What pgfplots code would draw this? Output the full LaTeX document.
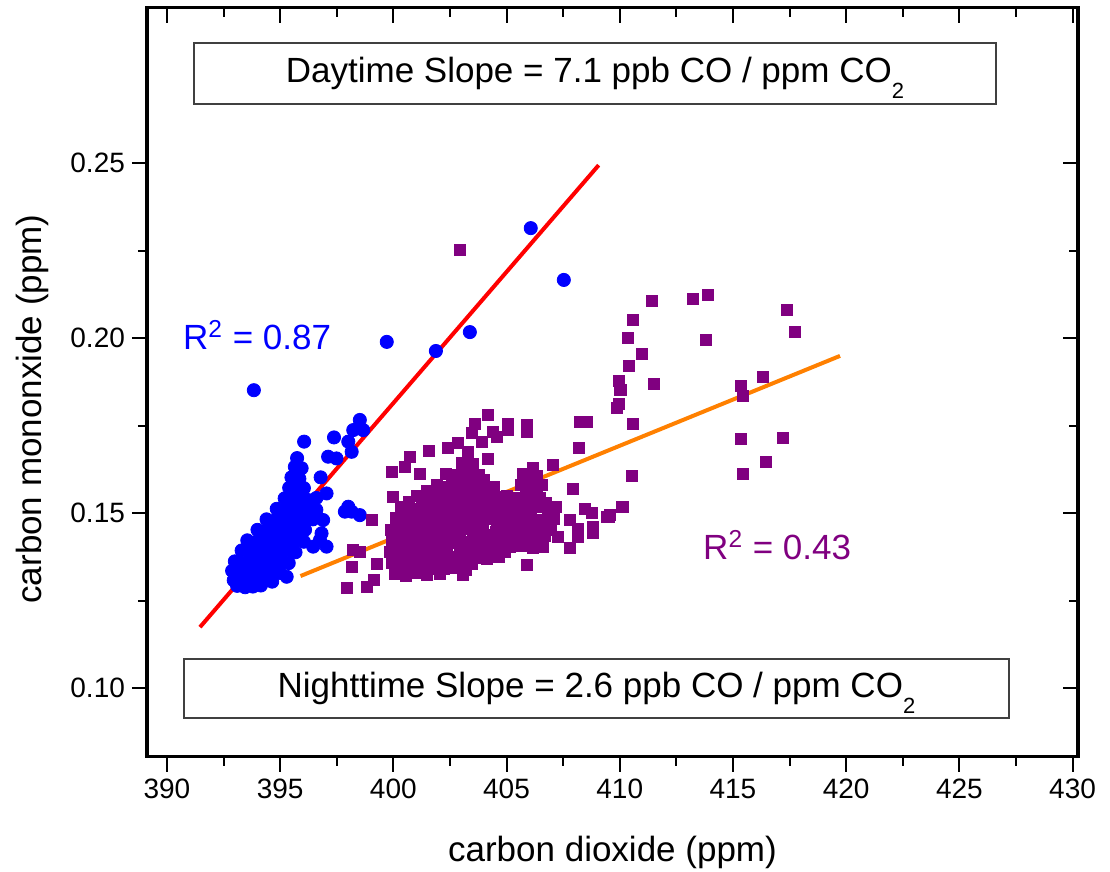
\documentclass[border=0pt]{standalone}
\usepackage{fontspec}
\setmainfont{Liberation Sans}
\usepackage{pgfplots}
\pgfplotsset{compat=1.18}
\definecolor{cblue}{RGB}{0,0,255}
\definecolor{cpurple}{RGB}{128,0,128}
\definecolor{corange}{RGB}{255,128,0}
\definecolor{cred}{RGB}{255,0,0}

\pgfplotstableread{
x y
393.84 0.1851
399.71 0.1989
401.88 0.1963
403.38 0.2017
406.07 0.2314
407.53 0.2166
398.52 0.1766
398.67 0.1737
398.23 0.1737
398.01 0.1704
398.16 0.1675
397.38 0.1716
396.06 0.1704
397.12 0.1661
397.49 0.1656
396.79 0.1602
397.05 0.1556
398.01 0.1518
398.16 0.1504
398.52 0.1494
397.86 0.1504
396.90 0.1480
396.83 0.1442
397.05 0.1404
396.46 0.1404
396.76 0.1423
395.29 0.1318
393.10 0.1292
393.45 0.1288
393.80 0.1290
394.15 0.1293
392.95 0.1308
393.30 0.1303
393.65 0.1306
394.00 0.1302
394.35 0.1307
394.65 0.1304
392.88 0.1335
393.25 0.1330
393.60 0.1333
393.95 0.1328
394.30 0.1334
394.65 0.1331
395.00 0.1329
393.00 0.1362
393.35 0.1358
393.70 0.1361
394.05 0.1357
394.40 0.1363
394.75 0.1359
395.10 0.1362
395.38 0.1357
393.30 0.1393
393.65 0.1388
394.00 0.1391
394.35 0.1387
394.70 0.1392
395.05 0.1389
395.40 0.1393
395.68 0.1388
393.55 0.1422
393.95 0.1418
394.30 0.1421
394.65 0.1417
395.00 0.1423
395.35 0.1419
395.70 0.1422
396.05 0.1418
394.00 0.1452
394.35 0.1448
394.70 0.1451
395.05 0.1447
395.40 0.1453
395.75 0.1449
396.10 0.1452
394.40 0.1482
394.75 0.1478
395.10 0.1481
395.45 0.1477
395.80 0.1483
396.15 0.1479
396.45 0.1482
394.85 0.1512
395.20 0.1508
395.55 0.1511
395.90 0.1507
396.25 0.1513
396.60 0.1509
395.20 0.1542
395.55 0.1538
395.90 0.1541
396.25 0.1537
396.60 0.1543
395.40 0.1572
395.75 0.1568
396.05 0.1571
395.50 0.1602
395.85 0.1598
395.65 0.1632
395.95 0.1628
395.75 0.1657
}\daytable

\pgfplotstableread{
x y
402.95 0.2251
404.19 0.1780
403.60 0.1756
405.07 0.1756
405.07 0.1737
405.91 0.1751
405.91 0.1732
403.45 0.1728
404.41 0.1732
404.56 0.1718
403.89 0.1704
402.87 0.1699
402.43 0.1685
403.31 0.1675
401.57 0.1678
400.73 0.1661
400.51 0.1631
399.92 0.1618
401.17 0.1613
404.19 0.1656
408.24 0.1761
408.53 0.1761
408.21 0.1685
407.06 0.1637
406.18 0.1628
405.74 0.1613
407.94 0.1570
408.46 0.1513
408.76 0.1499
409.50 0.1489
410.15 0.1518
408.83 0.1461
408.83 0.1442
408.17 0.1456
408.17 0.1432
407.80 0.1399
407.80 0.1480
407.28 0.1432
406.62 0.1404
405.89 0.1351
403.09 0.1323
399.04 0.1480
398.23 0.1394
398.52 0.1389
398.16 0.1347
399.26 0.1356
399.12 0.1309
398.82 0.1289
397.94 0.1285
400.00 0.1547
410.01 0.1851
411.44 0.2107
413.25 0.2111
413.91 0.2123
417.40 0.2080
417.74 0.2018
410.57 0.2051
410.38 0.1999
413.79 0.1996
410.96 0.1954
410.41 0.1920
409.98 0.1878
410.04 0.1851
411.51 0.1869
409.98 0.1813
409.89 0.1799
410.57 0.1754
416.31 0.1889
415.35 0.1863
415.45 0.1834
415.35 0.1711
417.19 0.1716
416.47 0.1647
415.45 0.1613
409.42 0.1489
409.57 0.1494
410.08 0.1518
410.52 0.1606
400.05 0.1327
400.55 0.1321
401.02 0.1329
401.48 0.1322
402.05 0.1326
399.92 0.1357
400.38 0.1352
400.95 0.1359
401.42 0.1351
401.88 0.1358
402.45 0.1353
402.92 0.1360
403.45 0.1354
399.85 0.1389
400.42 0.1384
400.88 0.1391
401.45 0.1385
401.92 0.1390
402.38 0.1383
402.95 0.1389
403.42 0.1386
403.88 0.1392
404.45 0.1384
404.92 0.1388
399.95 0.1421
400.38 0.1416
400.92 0.1422
401.45 0.1417
401.88 0.1421
402.42 0.1415
402.95 0.1423
403.38 0.1418
403.92 0.1421
404.45 0.1416
404.88 0.1422
405.42 0.1417
405.95 0.1420
406.38 0.1416
399.88 0.1452
400.52 0.1448
400.95 0.1455
401.52 0.1449
401.95 0.1453
402.55 0.1447
402.98 0.1454
403.52 0.1449
403.95 0.1452
404.52 0.1446
404.98 0.1453
405.52 0.1448
405.95 0.1454
406.52 0.1449
406.98 0.1452
400.12 0.1485
400.58 0.1480
401.12 0.1486
401.58 0.1481
402.15 0.1484
402.58 0.1479
403.12 0.1486
403.58 0.1481
404.12 0.1484
404.58 0.1478
405.12 0.1485
405.62 0.1481
406.08 0.1486
406.62 0.1480
407.08 0.1484
400.32 0.1517
400.78 0.1512
401.32 0.1518
401.78 0.1513
402.32 0.1516
402.82 0.1511
403.28 0.1518
403.82 0.1512
404.32 0.1517
404.78 0.1511
405.32 0.1516
405.78 0.1512
406.32 0.1518
406.82 0.1513
407.18 0.1517
401.02 0.1549
401.48 0.1544
402.02 0.1550
402.52 0.1545
402.98 0.1548
403.52 0.1543
404.02 0.1549
404.48 0.1545
405.02 0.1550
405.52 0.1544
406.02 0.1548
406.48 0.1543
401.92 0.1581
402.42 0.1576
402.92 0.1582
403.42 0.1577
403.92 0.1580
404.42 0.1575
405.62 0.1581
406.12 0.1576
406.58 0.1580
402.32 0.1612
402.82 0.1608
403.32 0.1613
403.78 0.1609
405.92 0.1612
406.32 0.1607
403.02 0.1644
403.52 0.1640
400.25 0.1340
400.75 0.1343
401.25 0.1338
401.75 0.1341
402.25 0.1339
402.75 0.1342
403.20 0.1338
400.15 0.1372
400.65 0.1369
401.15 0.1374
402.15 0.1371
402.65 0.1375
403.15 0.1370
403.65 0.1373
404.15 0.1370
404.65 0.1374
400.15 0.1404
400.65 0.1401
401.15 0.1406
401.65 0.1402
402.15 0.1405
403.15 0.1403
403.65 0.1406
404.15 0.1401
404.65 0.1405
405.15 0.1402
405.65 0.1405
406.15 0.1401
400.20 0.1436
400.70 0.1433
401.20 0.1438
401.70 0.1434
402.20 0.1437
402.70 0.1433
403.70 0.1435
404.20 0.1438
404.70 0.1434
405.20 0.1437
405.70 0.1433
406.20 0.1436
406.70 0.1434
400.30 0.1468
400.80 0.1465
401.30 0.1470
401.80 0.1466
402.30 0.1469
402.80 0.1465
403.30 0.1470
403.80 0.1466
404.80 0.1468
405.30 0.1465
405.80 0.1469
406.30 0.1466
406.80 0.1470
400.35 0.1500
400.85 0.1497
401.35 0.1502
401.85 0.1498
402.35 0.1501
402.85 0.1497
403.35 0.1502
403.85 0.1498
404.35 0.1501
404.85 0.1497
405.35 0.1502
405.85 0.1498
406.85 0.1500
400.70 0.1532
401.25 0.1529
401.75 0.1534
402.25 0.1530
402.75 0.1533
403.75 0.1531
404.25 0.1534
404.75 0.1530
405.25 0.1533
405.75 0.1529
406.25 0.1532
406.75 0.1530
401.50 0.1564
402.20 0.1561
402.70 0.1566
403.20 0.1562
403.70 0.1565
404.20 0.1561
405.85 0.1564
406.35 0.1561
402.60 0.1596
403.10 0.1593
403.60 0.1597
404.00 0.1594
406.10 0.1595
}\nighttable

\begin{document}
\begin{tikzpicture}
\useasboundingbox (-73.5pt,-57.5pt) rectangle (481.5pt,378.5pt);
\begin{axis}[
  at={(0,0)}, anchor=south west,
  scale only axis, width=465.5pt, height=374.5pt,
  xmin=389.12, xmax=430.24, ymin=0.0803, ymax=0.2943,
  tick pos=left, tick align=outside,
  axis line style={line width=1.5pt, black},
  xtick={390,395,...,430}, minor x tick num=1,
  ytick={0.10,0.15,0.20,0.25}, minor y tick num=1,
  major tick length=7.5pt, minor tick length=4.5pt,
  every tick/.style={black, line width=1pt},
  scaled y ticks=false, scaled x ticks=false,
  /pgf/number format/assume math mode=true,
  xticklabel style={font=\fontsize{14}{16}\selectfont, /pgf/number format/.cd, 1000 sep={}},
  yticklabel style={font=\fontsize{14}{16}\selectfont, /pgf/number format/.cd, fixed, fixed zerofill, precision=2},
  xlabel={carbon dioxide (ppm)},
  ylabel={carbon mononxide (ppm)},
  xlabel style={at={(axis description cs:0.5,-0.1268)}, anchor=center, font=\fontsize{17.5}{20}\selectfont},
  ylabel style={at={(axis description cs:-0.1235,0.4646)}, anchor=center, font=\fontsize{17.5}{20}\selectfont},
  clip=true,
]
\addplot[only marks, mark=*, mark size=3.3pt, draw=cblue, fill=cblue, mark options={draw=cblue, fill=cblue}] table[x=x, y=y] {\daytable};
\addplot[only marks, mark=square*, mark size=2.75pt, draw=cpurple, fill=cpurple, mark options={draw=cpurple, fill=cpurple}] table[x=x, y=y] {\nighttable};
\addplot[cred, line width=2pt] coordinates {(391.46,0.1174) (409.07,0.2494)};
\addplot[corange, line width=2pt] coordinates {(395.9,0.1320) (419.73,0.1949)};
\node[draw=black!75, line width=0.6pt, minimum width=401pt, minimum height=30.5pt, inner sep=0pt, font=\fontsize{17.5}{20}\selectfont] at (axis description cs:0.4812,0.9125) {Daytime Slope = 7.1 ppb CO / ppm CO\raisebox{-0.45em}[0pt][0pt]{\fontsize{11}{12}\selectfont 2}};
\node[draw=black!75, line width=0.6pt, minimum width=412.5pt, minimum height=29.5pt, inner sep=0pt, font=\fontsize{17.5}{20}\selectfont] at (axis description cs:0.4828,0.0915) {Nighttime Slope = 2.6 ppb CO / ppm CO\raisebox{-0.45em}[0pt][0pt]{\fontsize{11}{12}\selectfont 2}};
\node[anchor=west, inner sep=0pt, text=cblue, font=\fontsize{17.5}{20}\selectfont] at (axis cs:390.7,0.2009) {R\textsuperscript{2} = 0.87};
\node[anchor=west, inner sep=0pt, text=cpurple, font=\fontsize{17.5}{20}\selectfont] at (axis cs:413.67,0.1409) {R\textsuperscript{2} = 0.43};
\end{axis}
\begin{axis}[
  at={(0,0)}, anchor=south west,
  scale only axis, width=465.5pt, height=374.5pt,
  xmin=389.12, xmax=430.24, ymin=0.0803, ymax=0.2943,
  tick pos=right, tick align=inside,
  axis line style={line width=1.5pt, black},
  xtick={390,395,...,430}, minor x tick num=1,
  ytick={0.10,0.15,0.20,0.25}, minor y tick num=1,
  major tick length=7.5pt, minor tick length=4.5pt,
  every tick/.style={black, line width=1pt},
  xticklabels={}, yticklabels={},
  scaled y ticks=false, scaled x ticks=false,
]
\end{axis}
\end{tikzpicture}
\end{document}
